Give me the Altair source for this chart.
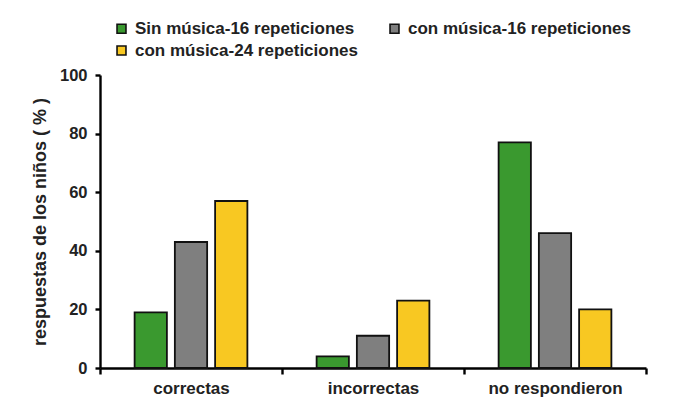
import altair as alt
import pandas as pd

categories = ["correctas", "incorrectas", "no respondieron"]
series = ["Sin música-16 repeticiones", "con música-16 repeticiones", "con música-24 repeticiones"]
sin_16 = [19, 4, 77]
con_16 = [43, 11, 46]
con_24 = [57, 23, 20]
colors = ["#3a992f", "#7f7f7f", "#f8c822"]

rows = []
for vals, s in zip([sin_16, con_16, con_24], series):
    for c, v in zip(categories, vals):
        rows.append({"cat": c, "serie": s, "val": v})
df = pd.DataFrame(rows)

FONT = "Liberation Sans"

chart = alt.Chart(df).mark_bar(stroke="#111", strokeWidth=1.8).encode(
    x=alt.X("cat:N", sort=categories, title=None,
            scale=alt.Scale(paddingInner=0, paddingOuter=0),
            axis=alt.Axis(labelAngle=0, tickBand="extent", domainColor="#000", domainWidth=2.4,
                          tickColor="#000", tickWidth=2.4, tickSize=6, labelFont=FONT,
                          labelFontSize=17, labelFontWeight="bold", labelColor="#222", labelPadding=6)),
    xOffset=alt.XOffset("serie:N", sort=series,
                        scale=alt.Scale(paddingInner=0.198, paddingOuter=0.86)),
    y=alt.Y("val:Q", title="respuestas de los niños ( % )",
            scale=alt.Scale(domain=[0, 100]),
            axis=alt.Axis(values=[0, 20, 40, 60, 80, 100], grid=False, domainColor="#000", domainWidth=2.4,
                          tickColor="#000", tickWidth=2.4, tickSize=5, labelFont=FONT,
                          labelFontSize=16.5, labelFontWeight="bold", labelColor="#222", labelPadding=8,
                          titleFont=FONT, titleFontSize=18, titleFontWeight="bold",
                          titleColor="#222", titlePadding=10)),
    color=alt.Color("serie:N", sort=series, scale=alt.Scale(domain=series, range=colors),
                    legend=alt.Legend(title=None, orient="none", legendX=13, legendY=-55, columns=2,
                                      direction="horizontal",
                                      symbolType="square", symbolSize=80, symbolStrokeColor="#111",
                                      symbolStrokeWidth=1.6, labelFont=FONT, labelFontSize=17,
                                      labelFontWeight="bold", labelColor="#222",
                                      columnPadding=28, rowPadding=4, labelLimit=400,
                                      labelOffset=5)),
).properties(
    width=546, height=293,
    autosize=alt.AutoSizeParams(type="none"),
    padding={"left": 92, "top": 67, "right": 26, "bottom": 36},
    background="white",
).configure_view(stroke=None)

chart.save("out.html", embed_options={"renderer": "svg", "actions": False})
